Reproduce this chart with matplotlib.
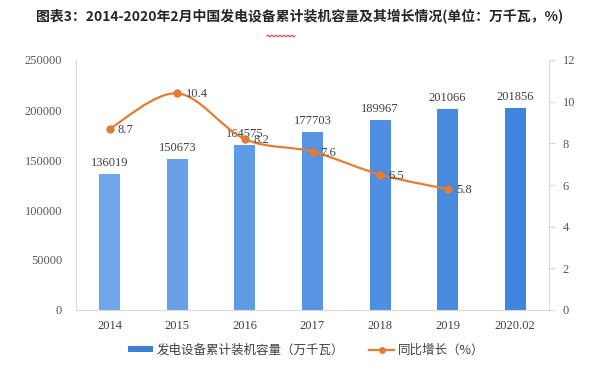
import matplotlib
matplotlib.use("Agg")
import matplotlib.pyplot as plt
from matplotlib.path import Path
from matplotlib.patches import PathPatch, Patch
from matplotlib.lines import Line2D
import numpy as np

plt.rcParams['font.family'] = ['Noto Sans CJK SC', 'DejaVu Sans']

categories = ["2014", "2015", "2016", "2017", "2018", "2019", "2020.02"]
capacity = [136019, 150673, 164575, 177703, 189967, 201066, 201856]
growth = [8.7, 10.4, 8.2, 7.6, 6.5, 5.8]
bar_colors = ["#6fa6ea", "#68a1e8", "#5f9ae5", "#5894e3", "#508ee1", "#478ade", "#3f84dc"]
line_color = "#e47c33"
title = "图表3：2014-2020年2月中国发电设备累计装机容量及其增长情况(单位：万千瓦，%)"
left_ticks = [0, 50000, 100000, 150000, 200000, 250000]
right_ticks = [0, 2, 4, 6, 8, 10, 12]

fig = plt.figure(figsize=(6, 3.66), dpi=100)
ax = fig.add_axes([76/600, 1-310/366, (549-76)/600, 250/366])
x = np.arange(len(categories))
ax.bar(x, capacity, width=0.31, color=bar_colors, zorder=2)
ax.set_xlim(-0.5, len(categories)-0.5)
ax.set_ylim(0, 250000)
ax.set_yticks(left_ticks)
num_font = 'Liberation Serif'
ax.set_yticklabels([str(t) for t in left_ticks], fontfamily=num_font, fontsize=9, color="#595959")
ax.set_xticks(x)
ax.set_xticklabels(categories, fontfamily=num_font, fontsize=9, color="#404040")
ax.tick_params(axis='both', length=0, pad=7)
ax.tick_params(axis='y', pad=10)
for s in ['top', 'right']:
    ax.spines[s].set_visible(False)
for s in ['left', 'bottom']:
    ax.spines[s].set_color("#d9d9d9")
    ax.spines[s].set_linewidth(0.8)
for xi, v in zip(x, capacity):
    ax.text(xi, v + 5000, str(v), ha='center', va='bottom', fontfamily=num_font, fontsize=9, color="#404040")

ax2 = ax.twinx()
ax2.set_ylim(0, 12)
ax2.set_yticks(right_ticks)
ax2.set_yticklabels([str(t) for t in right_ticks], fontfamily=num_font, fontsize=9, color="#595959")
ax2.tick_params(axis='y', direction='out', length=4, color="#d9d9d9", pad=6)
for s in ['top', 'left', 'bottom']:
    ax2.spines[s].set_visible(False)
ax2.spines['right'].set_color("#d9d9d9")
ax2.spines['right'].set_linewidth(0.8)

# smooth curve through points (Catmull-Rom -> cubic Bezier)
gx = x[:len(growth)].astype(float)
gy = np.array(growth, dtype=float)
pts = np.column_stack([gx, gy])
verts = [tuple(pts[0])]
codes = [Path.MOVETO]
n = len(pts)
for i in range(n-1):
    p0 = pts[i-1] if i > 0 else pts[i]
    p1 = pts[i]
    p2 = pts[i+1]
    p3 = pts[i+2] if i+2 < n else pts[i+1]
    c1 = p1 + (p2 - p0) / 6.0
    c2 = p2 - (p3 - p1) / 6.0
    verts += [tuple(c1), tuple(c2), tuple(p2)]
    codes += [Path.CURVE4]*3
ax2.add_patch(PathPatch(Path(verts, codes), fill=False, edgecolor=line_color, lw=1.6, zorder=3))
ax2.plot(gx, gy, linestyle='none', marker='o', ms=5, color=line_color, zorder=4)
for xi, v in zip(gx, gy):
    ax2.text(xi + 0.12, v - 0.05, f"{v}", ha='left', va='center', fontfamily=num_font, fontsize=9, color="#404040", zorder=5)

fig.text(0.5, 1-17/366, title, ha='center', va='center', fontsize=10, fontweight='bold', color="#262626")

# small red wavy underline below the title
wx = np.linspace(267/600, 295/600, 60)
wy = 1 - 36/366 + 0.8/366 * np.sin(np.linspace(0, 14*np.pi, 60))
fig.add_artist(Line2D(wx, wy, color="#e0404a", lw=0.8, transform=fig.transFigure))

handles = [Patch(facecolor="#3f7fd6", edgecolor='none'),
           Line2D([0], [0], color=line_color, lw=1.6, marker='o', ms=4)]
labels = ["发电设备累计装机容量（万千瓦）", "同比增长（%）"]
fig.legend(handles, labels, loc='center', bbox_to_anchor=(0.51, 1-350/366), ncol=2, frameon=False,
           fontsize=9, labelcolor="#404040", handlelength=2.0, handleheight=0.4, columnspacing=2.0, handletextpad=0.3)

fig.savefig("out.png", dpi=100)
